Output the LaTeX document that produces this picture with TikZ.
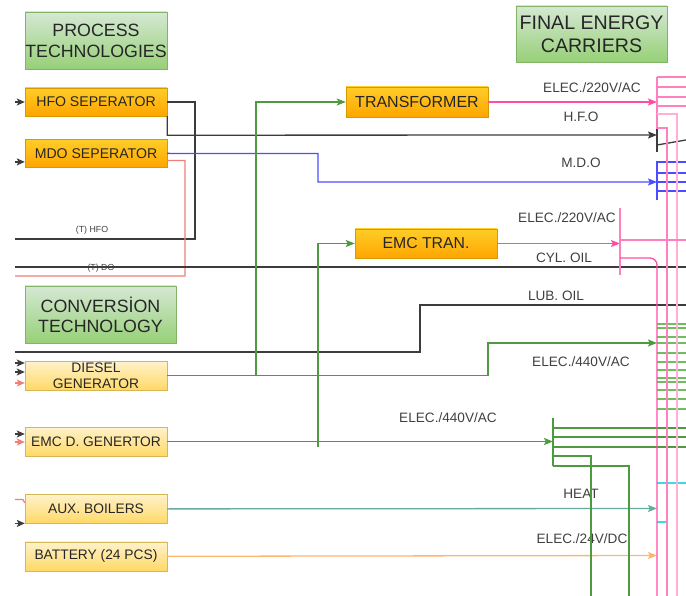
\documentclass[tikz,border=0pt]{standalone}
\usepackage{fontspec}
\setmainfont{Liberation Sans}
\usepackage{tikz}
\usetikzlibrary{positioning}
\usetikzlibrary{arrows.meta}

\definecolor{headtop}{HTML}{D5E8D4}
\definecolor{headbot}{HTML}{97D077}
\definecolor{headedge}{HTML}{82B366}
\definecolor{orangetop}{HTML}{FFCD28}
\definecolor{orangebot}{HTML}{FFA500}
\definecolor{orangeedge}{HTML}{D79B00}
\definecolor{yellowtop}{HTML}{FFF2CC}
\definecolor{yellowbot}{HTML}{FFD966}
\definecolor{yellowedge}{HTML}{D6B656}
\definecolor{oil}{HTML}{3C3C3C}
\definecolor{mdo}{HTML}{4D4DFF}
\definecolor{dieselred}{HTML}{EE7F7B}
\definecolor{elecgreen}{HTML}{4E9A3E}
\definecolor{busgreen}{HTML}{6DBF5E}
\definecolor{elecpink}{HTML}{FF4DA6}
\definecolor{buspink}{HTML}{FF80BF}
\definecolor{palepink}{HTML}{FFB0D8}
\definecolor{heat}{HTML}{67AB9F}
\definecolor{cyanline}{HTML}{3FD8E0}
\definecolor{dcorange}{HTML}{FFB570}
\definecolor{labelgray}{HTML}{404040}

\begin{document}
\begin{tikzpicture}[x=1pt, y=-1pt,
                          headnode/.style={rectangle, draw=headedge, top color=headtop, bottom color=headbot, minimum width=142pt, minimum height=57pt, inner sep=0pt, align=center, text=black!85, font=\fontsize{17.8}{21}\selectfont},
                          procnode/.style={rectangle, draw=orangeedge, top color=orangetop, bottom color=orangebot, minimum width=142pt, minimum height=28pt, inner sep=0pt, align=center, text=black!85, font=\fontsize{14.1}{16}\selectfont},
                          convnode/.style={procnode, draw=yellowedge, top color=yellowtop, bottom color=yellowbot, minimum height=29pt, font=\fontsize{13.8}{16}\selectfont},
                          carrier/.style={text=labelgray, text height=9.7pt, text depth=0pt, font=\fontsize{13.6}{15}\selectfont},
                          tanklabel/.style={text=labelgray, text height=6.4pt, text depth=0pt, font=\fontsize{8.8}{10}\selectfont},
                          flow/.style={line width=1.3pt},
                          arrowed/.style={flow, -{Stealth[length=9pt, width=7pt, inset=1.8pt]}},
                          inarrow/.style={flow, -{Stealth[length=8pt, width=7pt, inset=1.8pt]}},
                      ]
                      \useasboundingbox (0,0) rectangle (686,596);

                      %               %Nodes
                      \node[headnode]       (proc)      at (96,40.5)            {PROCESS\\TECHNOLOGIES};
                      \node[headnode, minimum width=151pt, minimum height=56pt, font=\fontsize{19.6}{23}\selectfont]
                                            (carriers)  at (591.5,34)           {FINAL ENERGY\\CARRIERS};
                      \node[headnode, minimum width=151pt, font=\fontsize{17.8}{20}\selectfont]
                                            (conv)      at (100.5,314.5)        {CONVERSİON\\TECHNOLOGY};

                      \node[procnode]       (hfosep)    at (96,102)             {HFO SEPERATOR};
                      \node[procnode]       (mdosep)    [below=23pt of hfosep]  {MDO SEPERATOR};
                      \node[procnode, minimum height=30pt, font=\fontsize{16}{18}\selectfont]
                                            (trans)     at (417,102)            {TRANSFORMER};
                      \node[procnode, minimum height=29pt, font=\fontsize{15.8}{18}\selectfont]
                                            (emctran)   at (426,243.5)          {EMC TRAN.};

                      \node[convnode]       (dg)        at (96,375.5)           {DIESEL\\GENERATOR};
                      \node[convnode]       (emcdg)     at (96,441.5)           {EMC D. GENERTOR};
                      \node[convnode]       (aux)       [below=38pt of emcdg]   {AUX. BOILERS};
                      \node[convnode]       (bat)       [below=18pt of aux]     {BATTERY (24 PCS)};

                      \node[carrier]        (l220a)     at (592,88)             {ELEC./220V/AC};
                      \node[carrier]        (lhfo)      at (581,117)            {H.F.O};
                      \node[carrier]        (lmdo)      at (581,163)            {M.D.O};
                      \node[carrier]        (l220b)     at (567,218)            {ELEC./220V/AC};
                      \node[carrier]        (lcyl)      at (564,258)            {CYL. OIL};
                      \node[carrier]        (llub)      at (556,296)            {LUB. OIL};
                      \node[carrier]        (l440a)     at (581,362)            {ELEC./440V/AC};
                      \node[carrier]        (l440b)     at (448,418)            {ELEC./440V/AC};
                      \node[carrier]        (lheat)     at (581,494)            {HEAT};
                      \node[carrier]        (l24)       at (582,539)            {ELEC./24V/DC};
                      \node[tanklabel]      (lthfo)     at (92,229)             {(T) HFO};
                      \node[tanklabel]      (ltdo)      at (101,267)            {(T) DO};

                      %   %Ends
                      \coordinate (thfo)    at (15,239);
                      \coordinate (tdo)     at (15,276);
                      \coordinate (cylin)   at (15,267);
                      \coordinate (cylout)  at (686,267);
                      \coordinate (lubin)   at (15,352);
                      \coordinate (lubout)  at (686,305);
                      \coordinate (hfobus)  at (657,135);
                      \coordinate (mdobus)  at (657,182);
                      \coordinate (acbus)   at (657,102);
                      \coordinate (acbus2)  at (620,243.5);
                      \coordinate (dgbus)   at (657,343);
                      \coordinate (egbus)   at (553,441.5);
                      \coordinate (heatbus) at (657,508.5);
                      \coordinate (dcbus)   at (657,555.5);
                      \coordinate (dgtap)   at (256,375.5);
                      \coordinate (egtap)   at (318,447);

                      %   %Lines
                      \draw[flow, oil] (hfosep.east) -- (195,102) |- (thfo);
                      \draw[arrowed, oil] (hfosep.south east) -- ++(0,19) -- (hfobus);
                      \draw[flow, dieselred] ([yshift=-7pt]mdosep.east) -- (185,160.5) |- (tdo);
                      \draw[arrowed, mdo] (mdosep.east) -- (318,153.5) |- (mdobus);
                      \draw[flow, oil] (cylin) -- (cylout);
                      \draw[flow, oil] (lubin) -- (420,352) |- (lubout);

                      \draw[arrowed, elecgreen] (dg.east) -- (488,375.5) |- (dgbus);
                      \draw[arrowed, elecgreen] (dgtap) |- (trans.west);
                      \draw[arrowed, elecpink] (trans.east) -- (acbus);
                      \draw[arrowed, elecgreen] (emcdg.east) -- (egbus);
                      \draw[arrowed, elecgreen] (egtap) |- (emctran.west);
                      \draw[arrowed, elecpink] (emctran.east) -- (acbus2);
                      \draw[arrowed, heat] (aux.east) -- (heatbus);
                      \draw[arrowed, dcorange] (bat.east) -- (dcbus);

                      %   %Inputs
                      \draw[inarrow, oil] ([xshift=-10pt]hfosep.west) -- (hfosep.west);
                      \draw[inarrow, oil] ([xshift=-10pt, yshift=-8.5pt]mdosep.west) -- ([yshift=-8.5pt]mdosep.west);
                      \draw[inarrow, oil] ([xshift=-10pt, yshift=12.5pt]dg.west) -- ([yshift=12.5pt]dg.west);
                      \draw[inarrow, oil] ([xshift=-10pt, yshift=3.5pt]dg.west) -- ([yshift=3.5pt]dg.west);
                      \draw[inarrow, dieselred] ([xshift=-10pt, yshift=-7.5pt]dg.west) -- ([yshift=-7.5pt]dg.west);
                      \draw[inarrow, oil] ([xshift=-10pt, yshift=7.5pt]emcdg.west) -- ([yshift=7.5pt]emcdg.west);
                      \draw[inarrow, dieselred] ([xshift=-10pt, yshift=-0.5pt]emcdg.west) -- ([yshift=-0.5pt]emcdg.west);
                      \draw[flow, dieselred] ([xshift=-10pt, yshift=9.5pt]aux.west) -- ([xshift=-2pt, yshift=9.5pt]aux.west) -- ([yshift=6pt]aux.west);
                      \draw[inarrow, oil] ([xshift=-10pt, yshift=-14.5pt]aux.west) -- ([yshift=-14.5pt]aux.west);

                      %   %Bus bars
                      \draw[flow, oil] (657,128) -- (657,152);
                      \draw[flow, oil] (657,145) -- (686,140);
                      \draw[flow, mdo] (657,161) -- (657,200);
                      \foreach \y in {162,173,182,191}
                          \draw[flow, mdo] (657,\y) -- (686,\y);
                      \foreach \y in {324,328,337,343,353,362,370,378,382,390,399,409}
                          \draw[flow, busgreen] (657,\y) -- (686,\y);
                      \draw[flow, elecgreen] (553,418) -- (553,466);
                      \foreach \y in {428,437,447}
                          \draw[flow, elecgreen] (553,\y) -- (686,\y);
                      \draw[flow, elecgreen] (553,456) -| (591,596);
                      \draw[flow, elecgreen] (553,466) -| (629,596);
                      \draw[flow, cyanline] (657,483) -- (686,483);
                      \draw[flow, cyanline] (657,522) -| (667,596);

                      \draw[flow, buspink] (657,77) -- (657,128) -- (667,128) -- (667,596);
                      \foreach \y in {77,87,97,106}
                          \draw[flow, buspink] (657,\y) -- (686,\y);
                      \draw[flow, palepink] (657,114) -| (677,596);
                      \draw[flow, buspink] (620,208) -- (620,275);
                      \draw[flow, buspink] (620,240) -- (686,240);
                      \draw[flow, elecpink, rounded corners=7pt] (620,258) -| (657,596);
                  \end{tikzpicture}
\end{document}
